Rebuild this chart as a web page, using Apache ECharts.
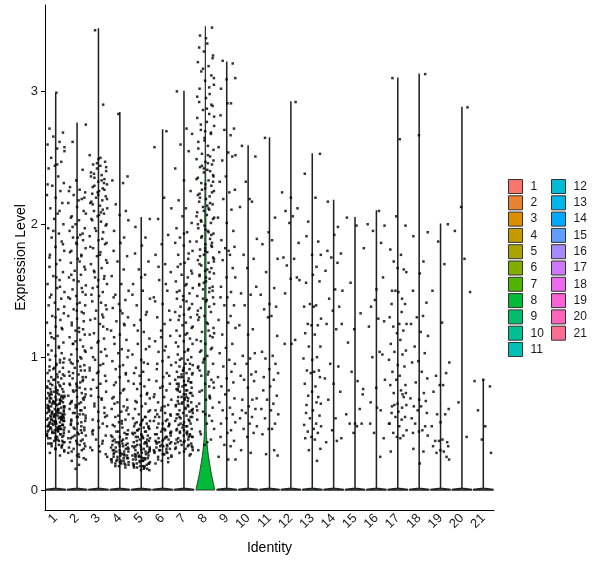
<!DOCTYPE html>
<html>
<head>
<meta charset="utf-8">
<script src="https://cdn.jsdelivr.net/npm/echarts@6/dist/echarts.min.js"></script>
<style>
  html, body { margin: 0; padding: 0; background: #fff; }
  #chart { width: 600px; height: 568px; }
</style>
</head>
<body>
<div id="chart"></div>
<script>
// cluster identities
const clusters = ['1','2','3','4','5','6','7','8','9','10','11','12','13','14','15','16','17','18','19','20','21']
const yTicks = [0, 1, 2, 3]

// ggplot hue palette, one per cluster
const palette = ['#F8766D','#EA8331','#DB8E00','#C49A00','#ABA300','#85AD00','#53B400','#00BA38','#00BE6C','#00C094','#00C0B5',
  '#00BCD6','#00B6EB','#00A9FF','#619CFF','#A58AFF','#CF78FF','#EA69EF','#FA62D6','#FF62BB','#FD6C92']

// top of each violin (max expression per cluster)
const violinMax = [2.98, 2.76, 3.47, 2.84, 2.05, 2.71, 3.0, 3.49, 3.22, 2.59, 2.65, 2.92, 2.53, 2.18, 2.05, 2.1, 3.1, 3.13, 2.0, 2.88, 0.83]

// cluster 8 violin outline: [level, half width]
const violin8 = [[0, 0.44], [0.05, 0.38], [0.1, 0.31], [0.15, 0.25], [0.2, 0.2], [0.25, 0.15], [0.3, 0.11], [0.35, 0.08],
  [0.4, 0.055], [0.45, 0.042], [0.6, 0.038], [1.0, 0.035], [1.5, 0.034], [2.0, 0.03], [2.3, 0.02], [2.6, 0.008], [3.0, 0.004], [3.49, 0.003]]

// expression of non-zero cells, per cluster
const pts1 = [2.99, 2.72, 2.69, 2.66, 2.62, 2.6, 2.57, 2.55, 2.5, 2.47, 2.44, 2.42, 2.36, 2.31, 2.29, 2.25, 2.22, 2.2, 2.16, 2.12, 2.08, 2.04, 2.0,
  1.97, 1.93, 1.9, 1.87, 1.83, 1.8, 1.77, 1.73, 1.7, 1.68, 1.64, 1.61, 1.58, 1.55, 1.52,
  1.49, 1.47, 1.44, 1.41, 1.39, 1.36, 1.33, 1.31, 1.28, 1.26, 1.23, 1.21, 1.18, 1.16, 1.14, 1.11, 1.09, 1.07, 1.05, 1.03, 1.01,
  0.99, 0.98, 0.96, 0.95, 0.93, 0.92, 0.91, 0.89, 0.88, 0.87, 0.86, 0.85, 0.84, 0.83, 0.82, 0.81, 0.8,
  0.79, 0.78, 0.78, 0.77, 0.76, 0.76, 0.75, 0.74, 0.74, 0.73, 0.72, 0.72, 0.71, 0.7, 0.7, 0.69, 0.68, 0.68, 0.67, 0.66, 0.66, 0.65,
  0.64, 0.64, 0.63, 0.63, 0.62, 0.61, 0.61, 0.6, 0.6, 0.59, 0.58, 0.58, 0.57, 0.57, 0.56, 0.56, 0.55, 0.55, 0.54, 0.54, 0.53, 0.53,
  0.52, 0.52, 0.51, 0.51, 0.5, 0.5, 0.49, 0.49, 0.48, 0.48, 0.47, 0.47, 0.46, 0.46, 0.45, 0.45, 0.44, 0.43, 0.43, 0.42, 0.41, 0.4,
  0.4, 0.39, 0.38, 0.37, 0.36, 0.35, 0.34, 0.33, 0.32, 0.31, 0.3, 0.28, 0.26,
  0.75, 0.71, 0.69, 0.67, 0.65, 0.62, 0.59, 0.57, 0.55, 0.53, 0.51, 0.49, 0.47, 0.45, 0.44, 0.42, 0.41, 0.39, 0.37, 0.35,
  0.6, 0.56, 0.52, 0.48, 0.46, 0.58, 0.54, 0.5, 0.62, 0.66,
  0.98, 0.94, 0.9, 0.87, 0.83, 0.79, 0.77, 0.73, 0.71, 0.69, 0.67, 0.65, 0.63, 0.61, 0.59, 0.57, 0.55, 0.53, 0.51, 0.49,
  0.47, 0.45, 0.43, 0.41, 0.39, 0.37, 0.35, 0.33, 0.31, 0.29, 0.72, 0.68, 0.64, 0.6, 0.56, 0.52, 0.48, 0.44, 0.4, 0.36,
  0.74, 0.7, 0.66, 0.62, 0.58, 0.54, 0.5, 0.46, 0.42, 0.38, 0.34, 0.8, 0.85, 0.92, 0.96, 1.02, 1.08, 1.15, 1.22, 1.3,
  1.38, 1.45, 1.53, 1.6, 1.75, 1.85, 1.95, 2.1, 2.3, 2.45, 2.58, 0.53, 0.55, 0.57, 0.59, 0.61, 0.63, 0.65, 0.67, 0.69,
  0.51, 0.49, 0.47, 0.45]
const pts2 = [2.75, 2.62, 2.41, 2.33, 2.28, 2.26, 2.24, 2.22, 2.19, 2.16, 2.13, 2.1, 2.06, 2.03, 2.0,
  1.97, 1.95, 1.92, 1.9, 1.88, 1.85, 1.82, 1.8, 1.77, 1.74, 1.71, 1.68, 1.65, 1.62, 1.6, 1.57, 1.54, 1.51,
  1.49, 1.46, 1.44, 1.41, 1.39, 1.36, 1.34, 1.31, 1.29, 1.27, 1.24, 1.22, 1.2, 1.17, 1.15, 1.13, 1.1, 1.08, 1.06, 1.04, 1.02,
  0.99, 0.97, 0.96, 0.94, 0.92, 0.9, 0.89, 0.87, 0.85, 0.84, 0.82, 0.8, 0.79, 0.77, 0.76, 0.74, 0.73, 0.71, 0.7, 0.68, 0.67,
  0.65, 0.64, 0.62, 0.61, 0.6, 0.58, 0.57, 0.55, 0.54, 0.53, 0.51, 0.5, 0.49, 0.47, 0.46, 0.45, 0.44, 0.42, 0.41, 0.4, 0.38,
  0.37, 0.36, 0.34, 0.33, 0.31, 0.3, 0.28, 0.26, 0.24, 0.22, 0.19, 0.16,
  0.9, 0.86, 0.81, 0.75, 0.69, 0.63, 0.56, 0.52, 0.48, 0.43, 0.39, 0.35, 0.58, 0.66,
  2.25, 2.18, 2.08, 1.98, 1.93, 1.86, 1.79, 1.72, 1.66, 1.58, 1.52, 1.45, 1.4, 1.33, 1.26, 1.19, 1.12, 1.05, 0.98, 0.93,
  0.88, 0.83, 0.78, 0.72, 0.66, 0.6, 0.55, 0.5, 0.45, 0.41, 0.37, 0.32, 0.27, 0.23, 0.95, 0.85, 0.75, 0.65, 0.57, 0.52,
  0.47, 0.43, 0.39, 0.35, 0.31, 0.29, 0.25, 0.62, 0.7, 0.8, 1.0, 1.1, 1.21, 1.35, 1.47, 1.62, 1.76, 1.9, 2.05, 2.2]
const pts3 = [3.46, 2.9, 2.52, 2.49, 2.47, 2.45, 2.44, 2.42, 2.4, 2.39, 2.37, 2.35, 2.34, 2.32, 2.3, 2.28, 2.27, 2.25, 2.23, 2.21,
  2.2, 2.18, 2.16, 2.14, 2.12, 2.1, 2.08, 2.06, 2.04, 2.02, 2.0,
  1.97, 1.94, 1.91, 1.88, 1.85, 1.82, 1.79, 1.76, 1.73, 1.7, 1.67, 1.64, 1.61, 1.58, 1.55, 1.52,
  1.49, 1.46, 1.42, 1.39, 1.35, 1.32, 1.28, 1.25, 1.21, 1.18, 1.14, 1.11, 1.07, 1.04, 1.01,
  0.98, 0.95, 0.92, 0.89, 0.86, 0.83, 0.8, 0.77, 0.74, 0.71, 0.68, 0.65, 0.62, 0.59, 0.56, 0.53, 0.5, 0.47, 0.44, 0.41,
  0.38, 0.35, 0.32, 0.29, 0.25,
  2.38, 2.31, 2.24, 2.17, 2.09, 1.86, 1.6, 1.3, 0.9, 0.7, 0.55, 0.45,
  2.5, 2.46, 2.43, 2.36, 2.33, 2.29, 2.26, 2.22, 2.19, 2.15, 2.11, 2.07, 2.03, 1.99, 1.95, 1.89, 1.83, 1.77, 1.71, 1.65,
  1.59, 1.53, 1.47, 1.41, 1.36, 1.29, 1.23, 1.17, 1.12, 1.06, 1.0, 0.94, 0.88, 0.82, 0.76, 0.69, 0.63, 0.58, 0.52, 0.48,
  0.42, 0.37, 0.33, 0.3, 0.27]
const pts4 = [2.83, 2.36, 2.33, 2.31, 2.15, 2.1, 2.07, 2.03, 1.95, 1.9, 1.86, 1.8, 1.76, 1.72, 1.66, 1.61, 1.55,
  1.5, 1.47, 1.43, 1.4, 1.37, 1.33, 1.3, 1.27, 1.24, 1.2, 1.17, 1.13, 1.1, 1.06, 1.03,
  1.0, 0.97, 0.94, 0.91, 0.88, 0.85, 0.82, 0.79, 0.76, 0.73, 0.7, 0.68, 0.66, 0.63, 0.61, 0.59, 0.57, 0.55, 0.53, 0.51, 0.49, 0.47,
  0.45, 0.44, 0.43, 0.41, 0.4, 0.39, 0.38, 0.37, 0.36, 0.35, 0.34, 0.33, 0.32, 0.31, 0.3, 0.29, 0.28, 0.27, 0.26, 0.25,
  0.24, 0.23, 0.22, 0.21, 0.2, 0.19, 0.18, 0.17,
  0.35, 0.3, 0.27, 0.24, 0.22, 0.2, 0.32, 0.28, 0.6, 0.65, 0.5,
  0.44, 0.42, 0.4, 0.38, 0.36, 0.34, 0.33, 0.31, 0.3, 0.29, 0.28, 0.27, 0.26, 0.25, 0.24, 0.23, 0.22, 0.21, 0.2, 0.19,
  0.18, 0.37, 0.35, 0.32, 0.29, 0.26, 0.23, 0.21, 0.42, 0.48, 0.52, 0.56, 0.62, 0.69, 0.75, 0.81, 0.87, 0.93, 1.05, 1.15,
  1.25, 1.35, 1.45]
const pts5 = [2.04, 1.98, 1.9, 1.84, 1.78, 1.72, 1.66, 1.62, 1.55, 1.5, 1.44, 1.39, 1.34, 1.28, 1.24, 1.19, 1.14, 1.1, 1.06, 1.02,
  0.98, 0.95, 0.92, 0.89, 0.86, 0.83, 0.8, 0.78, 0.76, 0.73, 0.71, 0.69, 0.67, 0.65, 0.63, 0.61, 0.59, 0.57, 0.55,
  0.54, 0.53, 0.52, 0.51, 0.5, 0.49, 0.48, 0.47, 0.46, 0.45, 0.44, 0.43, 0.42, 0.41, 0.4, 0.39, 0.38, 0.37, 0.36, 0.35,
  0.34, 0.33, 0.32, 0.31, 0.3, 0.29, 0.28, 0.27, 0.26, 0.25, 0.24, 0.23, 0.22, 0.21, 0.2, 0.19, 0.18, 0.17, 0.16, 0.15,
  0.4, 0.36, 0.33, 0.3, 0.28, 0.26, 0.24, 0.22, 0.2, 0.18, 0.17, 0.45, 0.38, 0.5, 0.32, 0.25,
  0.55, 0.52, 0.5, 0.48, 0.46, 0.44, 0.42, 0.4, 0.39, 0.37, 0.35, 0.34, 0.32, 0.31, 0.29, 0.28, 0.27, 0.26, 0.25, 0.24,
  0.23, 0.22, 0.21, 0.2, 0.19, 0.18, 0.17, 0.16, 0.15, 0.3, 0.33, 0.36, 0.41, 0.43, 0.47, 0.26, 0.23, 0.2, 0.18, 0.6,
  0.66, 0.72, 0.8, 0.88, 0.96, 1.08, 1.2, 1.32, 1.47, 1.6]
const pts6 = [2.7, 2.58, 2.2, 2.12, 2.04, 1.92, 1.85, 1.77, 1.7, 1.64, 1.58, 1.5, 1.45, 1.4, 1.35, 1.3, 1.25, 1.2, 1.16, 1.12, 1.08, 1.04, 1.0,
  0.97, 0.94, 0.91, 0.88, 0.85, 0.82, 0.8, 0.77, 0.75, 0.72, 0.7, 0.68, 0.66, 0.64, 0.62, 0.6, 0.58, 0.56, 0.55, 0.53, 0.52, 0.5,
  0.49, 0.47, 0.46, 0.44, 0.43, 0.42, 0.4, 0.39, 0.38, 0.37, 0.36, 0.35, 0.34, 0.33, 0.32, 0.31, 0.3, 0.29, 0.28, 0.27, 0.26,
  0.25, 0.24, 0.22, 0.2,
  0.45, 0.41, 0.36, 0.33, 0.3, 0.27, 0.5, 0.57,
  0.63, 0.6, 0.57, 0.55, 0.52, 0.5, 0.48, 0.46, 0.44, 0.42, 0.4, 0.38, 0.36, 0.35, 0.33, 0.31, 0.29, 0.27, 0.25, 0.23,
  0.21, 0.34, 0.37, 0.39, 0.43, 0.3, 0.28, 0.7, 0.78, 0.86, 0.95, 1.05, 1.15, 1.28, 1.42, 1.55, 1.68]
const pts7 = [3.0, 2.72, 2.68, 2.6, 2.55, 2.42, 2.33, 2.25, 2.18, 2.12, 2.06, 2.01,
  1.97, 1.94, 1.9, 1.87, 1.84, 1.8, 1.77, 1.74, 1.71, 1.68, 1.65, 1.62, 1.6, 1.57, 1.54, 1.52,
  1.5, 1.48, 1.46, 1.44, 1.42, 1.4, 1.38, 1.36, 1.34, 1.32, 1.3, 1.28, 1.26, 1.24, 1.22, 1.2, 1.18, 1.16, 1.14, 1.12, 1.1, 1.08,
  1.06, 1.04, 1.02, 1.0,
  0.99, 0.98, 0.96, 0.95, 0.94, 0.93, 0.91, 0.9, 0.89, 0.88, 0.87, 0.85, 0.84, 0.83, 0.82, 0.81, 0.8, 0.79, 0.78, 0.77, 0.76,
  0.75, 0.74, 0.73, 0.72, 0.71, 0.7, 0.69, 0.68, 0.67, 0.66, 0.65, 0.64, 0.63, 0.62, 0.61, 0.6, 0.59, 0.58, 0.57, 0.56, 0.55,
  0.54, 0.53, 0.52, 0.51, 0.5, 0.49, 0.48, 0.47, 0.46, 0.45, 0.44, 0.43, 0.42, 0.41, 0.4, 0.39, 0.38, 0.37, 0.36, 0.35, 0.34,
  0.33, 0.32, 0.31, 0.3, 0.28, 0.26,
  0.9, 0.8, 0.7, 0.6, 0.5, 0.4, 0.35, 0.45, 0.55, 0.65, 0.75, 0.85, 0.33, 0.38, 0.42,
  0.98, 0.95, 0.92, 0.88, 0.85, 0.82, 0.79, 0.76, 0.73, 0.7, 0.67, 0.64, 0.61, 0.58, 0.55, 0.52, 0.49, 0.46, 0.43, 0.4,
  0.37, 0.34, 0.31, 0.29, 0.27, 0.78, 0.72, 0.66, 0.6, 0.54, 0.48, 0.44, 0.41, 0.36, 0.32, 0.57, 0.63, 0.69, 0.75, 0.81,
  0.87, 1.05, 1.11, 1.17, 1.23, 1.31, 1.37, 1.43, 1.49, 1.55, 1.63, 1.7, 1.78, 1.86, 1.93]
const pts8 = [3.48, 3.42, 3.36, 3.3, 3.27, 3.22, 3.19, 3.15, 3.12, 3.08, 3.05, 3.02,
  2.98, 2.95, 2.92, 2.89, 2.86, 2.83, 2.8, 2.77, 2.74, 2.71, 2.68, 2.65, 2.62, 2.59, 2.56, 2.53, 2.51,
  2.49, 2.47, 2.45, 2.43, 2.41, 2.39, 2.37, 2.35, 2.33, 2.31, 2.29, 2.27, 2.25, 2.23, 2.21, 2.19, 2.17, 2.15, 2.13, 2.11,
  2.09, 2.07, 2.05, 2.03, 2.01,
  1.99, 1.97, 1.95, 1.93, 1.91, 1.89, 1.87, 1.85, 1.83, 1.81, 1.79, 1.77, 1.75, 1.73, 1.71, 1.69, 1.67, 1.65, 1.63, 1.61,
  1.59, 1.57, 1.55, 1.53, 1.51,
  1.49, 1.46, 1.43, 1.4, 1.37, 1.34, 1.31, 1.28, 1.25, 1.22, 1.19, 1.16, 1.13, 1.1, 1.07, 1.04, 1.01,
  0.98, 0.95, 0.92, 0.89, 0.86, 0.83, 0.8, 0.77, 0.74, 0.71, 0.68, 0.65, 0.62, 0.59, 0.56, 0.53, 0.5,
  0.46, 0.42, 0.38, 0.34, 0.3,
  2.46, 2.36, 2.26, 2.16, 2.06, 1.96, 1.86, 1.76, 1.66, 1.56, 1.45, 1.35, 1.2, 1.05, 2.9, 2.7, 3.1, 0.9, 0.7,
  3.4, 3.33, 3.25, 3.17, 3.03, 2.96, 2.87, 2.81, 2.75, 2.69, 2.63, 2.57, 2.52, 2.48, 2.44, 2.4, 2.34, 2.3, 2.24, 2.2,
  2.14, 2.1, 2.04, 2.0, 1.94, 1.9, 1.84, 1.8, 1.74, 1.7, 1.64, 1.6, 1.54, 1.5, 1.44, 1.38, 1.32, 1.26, 1.18, 1.12,
  1.06, 0.99, 0.93, 0.87, 0.81, 0.75, 0.69, 0.63, 0.57, 0.52, 0.44, 0.36, 2.42, 2.32, 2.22, 2.12, 2.02, 1.92, 1.82, 1.72,
  1.62, 1.52, 1.42, 1.3, 1.15, 0.96, 0.78, 0.6]
const pts9 = [3.23, 3.21, 3.09, 3.1, 3.02, 2.91, 2.91, 2.82, 2.72, 2.71, 2.67, 2.58, 2.54, 2.52, 2.48, 2.51, 2.36, 2.32, 2.24, 2.26,
  2.19, 2.11, 2.05, 2.01, 1.95, 1.88, 1.8, 1.82, 1.83, 1.79, 1.77, 1.73, 1.67, 1.6, 1.6, 1.53, 1.49, 1.45, 1.45, 1.39, 1.39,
  1.31, 1.28, 1.26, 1.22, 1.17, 1.1, 1.07, 1.03, 0.98, 0.95, 0.93, 0.89, 0.85, 0.84, 0.81, 0.78, 0.75, 0.72, 0.69, 0.66,
  0.62, 0.6, 0.57, 0.54, 0.51, 0.5, 0.45, 0.43, 0.4, 0.37, 0.34, 0.33, 0.25, 0.23, 0.23]
const pts10 = [2.59, 2.51, 2.32, 2.17, 2.13, 2.19, 1.89, 1.77, 1.74, 1.67, 1.48, 1.47, 1.53, 1.39, 1.21, 1.24, 1.17, 1.03, 1.01,
  0.99, 0.95, 0.89, 0.86, 0.87, 0.83, 0.82, 0.77, 0.69, 0.68, 0.68, 0.63, 0.6, 0.61, 0.58, 0.55, 0.54, 0.5, 0.48, 0.46, 0.43,
  0.4, 0.3, 0.28]
const pts11 = [2.65, 2.05, 1.94, 1.85, 1.88, 1.74, 1.64, 1.52, 1.47, 1.4, 1.38, 1.36, 1.31, 1.3, 1.16, 1.04, 1.01, 0.99, 0.95,
  0.91, 0.88, 0.85, 0.83, 0.78, 0.75, 0.71, 0.68, 0.65, 0.61, 0.6, 0.57, 0.54, 0.5, 0.46, 0.42, 0.46, 0.26, 0.27, 0.3]
const pts12 = [2.92, 2.24, 2.2, 2.12, 2.1, 2.06, 2.01, 1.86, 1.75, 1.74, 1.69, 1.6, 1.59, 1.58, 1.48, 1.13, 1.1, 1.1]
const pts13 = [2.53, 2.38, 2.2, 2.02, 1.87, 1.77, 1.77, 1.91, 1.68, 1.62, 1.56, 1.57, 1.4, 1.39, 1.38, 1.38, 1.29, 1.25, 1.24,
  1.24, 1.18, 1.17, 1.08, 1.08, 1.0, 0.99, 0.98, 0.9, 0.9, 0.89, 0.88, 0.85, 0.8, 0.78, 0.71, 0.7, 0.74, 0.65, 0.64, 0.66,
  0.6, 0.58, 0.56, 0.54, 0.5, 0.49, 0.46, 0.48, 0.44, 0.43, 0.4, 0.39, 0.38, 0.31, 0.3, 0.22]
const pts14 = [2.17, 1.98, 1.92, 1.8, 1.78, 1.75, 1.71, 1.65, 1.51, 1.5, 1.44, 1.38, 1.35, 1.25, 1.21, 1.25, 0.95, 0.93, 0.84,
  0.8, 0.74, 0.68, 0.54, 0.45, 0.39, 0.36, 0.37]
const pts15 = [2.05, 1.99, 1.82, 1.56, 1.33, 1.21, 1.11, 0.82, 0.76, 0.89, 0.61, 0.57, 0.5, 0.5, 0.5, 0.48, 0.43, 0.72]
const pts16 = [2.1, 1.99, 1.95, 1.86, 2.0, 1.51, 1.6, 1.38, 1.29, 1.43, 1.27, 1.23, 1.04, 1.0, 1.02, 0.77, 0.83, 0.66, 0.6,
  0.62, 0.5, 0.39, 0.43, 0.25]
const pts17 = [3.1, 2.64, 2.06, 1.99, 1.81, 1.77, 1.72, 1.66, 1.67, 1.64, 1.5, 1.44, 1.49, 1.4, 1.4, 1.5, 1.34, 1.3, 1.25,
  1.25, 1.23, 1.2, 1.18, 1.1, 1.13, 1.05, 1.04, 1.02, 0.98, 0.94, 0.93, 0.89, 0.86, 0.83, 0.79, 0.79, 0.75, 0.73, 0.7, 0.65,
  0.64, 0.63, 0.62, 0.59, 0.58, 0.55, 0.55, 0.53, 0.5, 0.48, 0.45, 0.43, 0.41, 0.4, 0.29, 0.39, 0.73, 0.64, 0.72, 0.5]
const pts18 = [3.13, 2.67, 1.94, 1.91, 1.72, 1.63, 1.5, 1.41, 1.3, 1.31, 1.25, 1.19, 1.16, 1.08, 1.03, 0.97, 0.96, 0.89, 0.84,
  0.81, 0.73, 0.69, 0.68, 0.67, 0.63, 0.63, 0.6, 0.58, 0.54, 0.45, 0.5, 0.48, 0.44, 0.41, 0.31, 0.29, 0.2, 0.43]
const pts19 = [2.0, 1.87, 1.7, 1.5, 1.26, 0.96, 0.86, 0.88, 0.79, 0.74, 0.79, 0.61, 0.57, 0.57, 0.48, 0.51, 0.36, 0.37, 0.38,
  0.37, 0.33, 0.33, 0.29, 0.28, 0.25, 0.3, 0.23]
const pts20 = [2.88, 2.13, 1.95, 1.74, 1.49, 0.66, 0.4]
const pts21 = [0.82, 0.83, 0.78, 0.6, 0.48, 0.38, 0.28]
const clusterPoints = [pts1, pts2, pts3, pts4, pts5, pts6, pts7, pts8, pts9, pts10, pts11, pts12, pts13, pts14, pts15, pts16,
  pts17, pts18, pts19, pts20, pts21]

// horizontal spread of the jittered dots, in category widths
const jitter = [0.03, -0.29, 0.34, -0.11, 0.18, -0.38, 0.07, 0.41, -0.21, 0.26, -0.04, -0.33, 0.12, 0.38, -0.16, 0.22,
  -0.41, 0.0, 0.31, -0.25, 0.09, -0.07, 0.36, -0.35, 0.15, -0.19, 0.28, -0.01, 0.4, -0.27, 0.2]

const font = 'Liberation Sans, Arial, sans-serif'
const chart = echarts.init(document.getElementById('chart'), null, { renderer: 'canvas' })

function violinProfile(i) {
  if (i === 7) return violin8
  return [[0, 0.45], [0.005, 0.45], [0.015, 0.003], [violinMax[i], 0.003]]
}

const violinSeries = clusters.map((name, i) => ({
  name,
  type: 'custom',
  xAxisIndex: 1,
  yAxisIndex: 0,
  itemStyle: { color: palette[i] },
  data: [[i, violinMax[i]]],
  silent: true,
  z: 1,
  renderItem: (params, api) => {
    const prof = violinProfile(i)
    const right = prof.map(([y, w]) => api.coord([i + w, y]))
    const left = prof.slice().reverse().map(([y, w]) => api.coord([i - w, y]))
    return {
      type: 'polygon',
      shape: { points: right.concat(left) },
      style: { fill: palette[i], stroke: '#222', lineWidth: i === 7 ? 0.8 : 1.4 },
    }
  },
}))

const dots = []
clusterPoints.forEach((vals, i) => {
  vals.forEach((v, k) => {
    dots.push([i + jitter[(k + i * 7) % jitter.length], v])
  })
})

const legendCommon = {
  orient: 'vertical',
  top: 179,
  padding: 0,
  icon: 'rect',
  itemWidth: 14,
  itemHeight: 14,
  itemGap: 1.3,
  selectedMode: false,
  itemStyle: { borderColor: '#333', borderWidth: 1 },
  textStyle: { fontSize: 12, color: '#1a1a1a', fontFamily: font, padding: [0, 0, 0, 3] },
}

chart.setOption({
  animation: false,
  textStyle: { fontFamily: font },
  grid: { left: 45, right: 106, top: 5, bottom: 58 },
  legend: [
    { ...legendCommon, left: 508, data: clusters.slice(0, 11) },
    { ...legendCommon, left: 551, data: clusters.slice(11) },
  ],
  xAxis: [
    {
      type: 'category',
      data: clusters,
      name: 'Identity',
      nameLocation: 'middle',
      nameGap: 31,
      nameTextStyle: { fontSize: 14, color: '#000', fontFamily: font },
      axisLine: { onZero: false, lineStyle: { color: '#000', width: 1 } },
      axisTick: { alignWithLabel: true, length: 4, lineStyle: { color: '#000' } },
      axisLabel: { rotate: 45, margin: 6, fontSize: 13, color: '#1a1a1a', fontFamily: font, interval: 0 },
      splitLine: { show: false },
    },
    { type: 'value', min: -0.5, max: 20.5, show: false },
  ],
  yAxis: {
    type: 'value',
    min: -0.15,
    max: 3.65,
    name: 'Expression Level',
    nameLocation: 'middle',
    nameGap: 17,
    nameMoveOverlap: false,
    nameTextStyle: { fontSize: 14, color: '#000', fontFamily: font },
    axisLine: { show: true, onZero: false, lineStyle: { color: '#000', width: 1 } },
    axisTick: { show: true, length: 4, customValues: yTicks, lineStyle: { color: '#000' } },
    axisLabel: { customValues: yTicks, margin: 7, fontSize: 13, color: '#1a1a1a', fontFamily: font },
    splitLine: { show: false },
  },
  series: [
    ...violinSeries,
    {
      name: 'cells',
      type: 'scatter',
      xAxisIndex: 1,
      yAxisIndex: 0,
      symbol: 'rect',
      symbolSize: 2.5,
      itemStyle: { color: '#000' },
      silent: true,
      z: 3,
      data: dots,
    },
  ],
})
</script>
</body>
</html>
